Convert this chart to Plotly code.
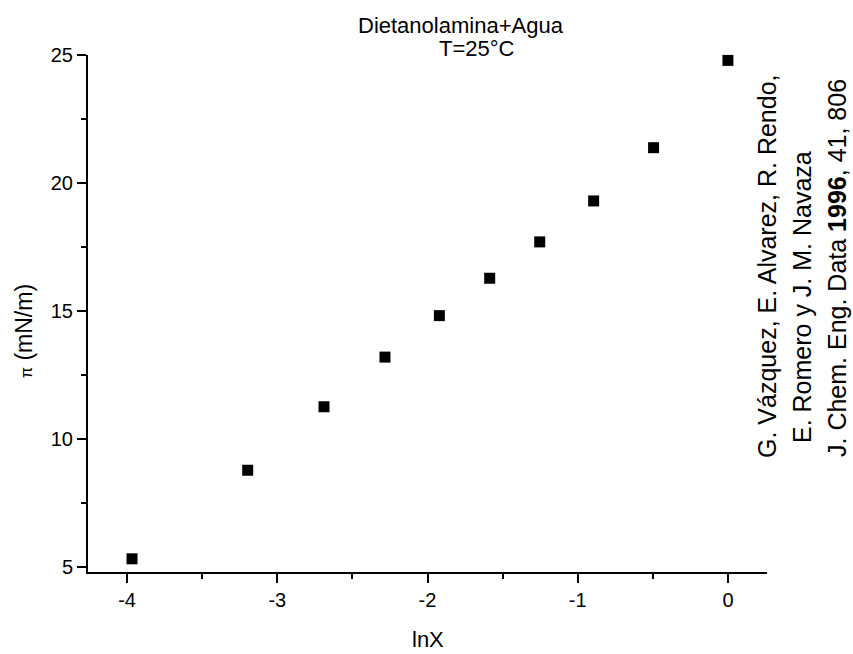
import plotly.graph_objects as go

# ---- data ----
lnx = [-3.967, -3.197, -2.689, -2.283, -1.921, -1.586, -1.253, -0.894, -0.495, 0.0]
pi_vals = [5.32, 8.78, 11.26, 13.20, 14.82, 16.28, 17.70, 19.30, 21.38, 24.79]
x_ticks = [-4, -3, -2, -1, 0]
y_ticks = [5, 10, 15, 20, 25]

title_line1 = "Dietanolamina+Agua"
title_line2 = "T=25°C"
x_title = "lnX"
y_title = "<span style='font-size:16px'>π</span> (mN/m)"
ref_lines = [
    "G. Vázquez, E. Alvarez, R. Rendo,",
    "E. Romero y J. M. Navaza",
    "J. Chem. Eng. Data <b>1996</b>, 41, 806",
]

# ---- layout geometry (pixels) ----
W, H = 853, 654
L, R, T, B = 88, 767, 55, 572
FONT = "Liberation Sans, Arial, sans-serif"


def px(xp):
    return (xp - L) / (R - L)


def py(yp):
    return (B - yp) / (B - T)


fig = go.Figure()
fig.add_trace(go.Scatter(
    x=lnx, y=pi_vals, mode="markers",
    marker=dict(symbol="square", size=11, color="black", line=dict(width=0)),
    cliponaxis=False, showlegend=False,
))

axis_common = dict(
    showline=True, linecolor="black", linewidth=2,
    ticks="outside", ticklen=9, tickwidth=2, tickcolor="black",
    showgrid=False, zeroline=False, mirror=False,
    tickfont=dict(family=FONT, size=20, color="black"),
)

fig.update_xaxes(
    range=[-4.26, 0.26], tickmode="array", tickvals=x_ticks,
    ticktext=[str(v) for v in x_ticks],
    minor=dict(ticks="outside", ticklen=5, tickwidth=2, tickcolor="black",
               dtick=0.5, tick0=0, showgrid=False),
    **axis_common,
)
fig.update_yaxes(
    range=[4.805, 25.001], tickmode="array", tickvals=y_ticks,
    ticktext=[str(v) for v in y_ticks],
    minor=dict(ticks="outside", ticklen=5, tickwidth=2, tickcolor="black",
               dtick=2.5, tick0=0, showgrid=False),
    **axis_common,
)

ann = []
ann.append(dict(text=title_line1, x=px(461), y=py(25), xref="paper", yref="paper",
                xanchor="center", yanchor="middle", showarrow=False,
                font=dict(family=FONT, size=22, color="black")))
ann.append(dict(text=title_line2, x=px(477), y=py(48), xref="paper", yref="paper",
                xanchor="center", yanchor="middle", showarrow=False,
                font=dict(family=FONT, size=22, color="black")))
ann.append(dict(text=x_title, x=px(428), y=py(639), xref="paper", yref="paper",
                xanchor="center", yanchor="middle", showarrow=False,
                font=dict(family=FONT, size=22, color="black")))
ann.append(dict(text=y_title, x=px(24), y=py(331), xref="paper", yref="paper",
                xanchor="center", yanchor="middle", showarrow=False, textangle=-90,
                font=dict(family=FONT, size=23, color="black")))

ref_pos = [(767, 266), (802, 297), (837, 268)]
for txt, (xp, yp) in zip(ref_lines, ref_pos):
    ann.append(dict(text=txt, x=px(xp), y=py(yp), xref="paper", yref="paper",
                    xanchor="center", yanchor="middle", showarrow=False, textangle=-90,
                    font=dict(family=FONT, size=25, color="black")))

fig.update_layout(
    width=W, height=H,
    margin=dict(l=L, r=W - R, t=T, b=H - B, pad=0),
    paper_bgcolor="white", plot_bgcolor="white",
    annotations=ann,
)

fig.write_html("out.html")
